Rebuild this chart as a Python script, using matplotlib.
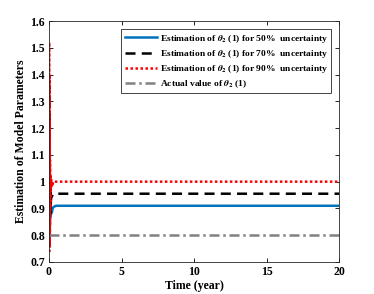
import matplotlib
matplotlib.use('Agg')
import matplotlib.pyplot as plt

plt.rcParams['font.family'] = 'Liberation Serif'
plt.rcParams['font.weight'] = 'bold'
plt.rcParams['mathtext.fontset'] = 'stix'

# time points (year) and estimates
t = [0, 0.01, 0.02, 0.03, 0.04, 0.05, 0.06, 0.07, 0.08, 0.1, 0.12, 0.15,
     0.2, 0.25, 0.3, 0.4, 0.5, 0.7, 1.0, 20]
est_50 = [0.80, 1.20, 0.85, 1.10, 0.82, 1.02, 0.86, 0.97, 0.88, 0.92, 0.87,
          0.89, 0.885, 0.90, 0.905, 0.908, 0.91, 0.91, 0.91, 0.91]
est_70 = [0.80, 1.36, 0.78, 1.25, 0.80, 1.10, 0.84, 1.02, 0.88, 0.98, 0.92,
          0.94, 0.945, 0.95, 0.955, 0.955, 0.955, 0.955, 0.955, 0.955]
est_90 = [0.80, 1.52, 0.74, 1.40, 0.76, 1.22, 0.80, 1.08, 0.90, 1.02, 0.97,
          1.01, 0.98, 0.99, 1.0, 1.0, 1.0, 1.0, 1.0, 1.0]
t_actual = [0, 20]
actual = [0.8, 0.8]

fig = plt.figure(figsize=(3.74, 2.94), dpi=100)
ax = fig.add_axes([49 / 374, 1 - 262 / 294, 290 / 374, 241 / 294])

ax.plot(t, est_50, color='#0072BD', linewidth=1.8,
        label=r'Estimation of $\boldsymbol{\theta_2}$ (1) for 50%  uncertainty')
ax.plot(t, est_70, color='black', linewidth=1.8, linestyle=(0, (4, 2.5)),
        label=r'Estimation of $\boldsymbol{\theta_2}$ (1) for 70%  uncertainty')
ax.plot(t, est_90, color='red', linewidth=1.8, linestyle=(0, (1, 1)),
        label=r'Estimation of $\boldsymbol{\theta_2}$ (1) for 90%  uncertainty')
ax.plot(t_actual, actual, color='#808080', linewidth=1.8,
        linestyle=(0, (4, 1.5, 1, 1.5)),
        label=r'Actual value of $\boldsymbol{\theta_2}$ (1)')

ax.set_xlim(0, 20)
ax.set_ylim(0.7, 1.6)
ax.set_xticks([0, 5, 10, 15, 20])
ax.set_yticks([0.7, 0.8, 0.9, 1.0, 1.1, 1.2, 1.3, 1.4, 1.5, 1.6])
ax.set_yticklabels(['0.7', '0.8', '0.9', '1', '1.1', '1.2', '1.3', '1.4', '1.5', '1.6'])
ax.tick_params(direction='in', top=True, right=True, labelsize=8.5,
               length=3, width=0.6, pad=3)
for lab in ax.get_xticklabels() + ax.get_yticklabels():
    lab.set_fontweight('bold')
for s in ax.spines.values():
    s.set_linewidth(0.6)
    s.set_color('#262626')

ax.set_xlabel('Time (year)', fontsize=8.5, fontweight='bold', labelpad=1)
ax.set_ylabel('Estimation of Model Parameters', fontsize=8.5,
              fontweight='bold', labelpad=2)

leg = ax.legend(loc='upper right', fontsize=6.8, handlelength=3.4,
                fancybox=False, framealpha=1, edgecolor='#262626',
                borderpad=0.35, labelspacing=0.35, handletextpad=0.3,
                bbox_to_anchor=(0.99, 0.985))
leg.get_frame().set_linewidth(0.6)

fig.savefig('out.png', dpi=100)
